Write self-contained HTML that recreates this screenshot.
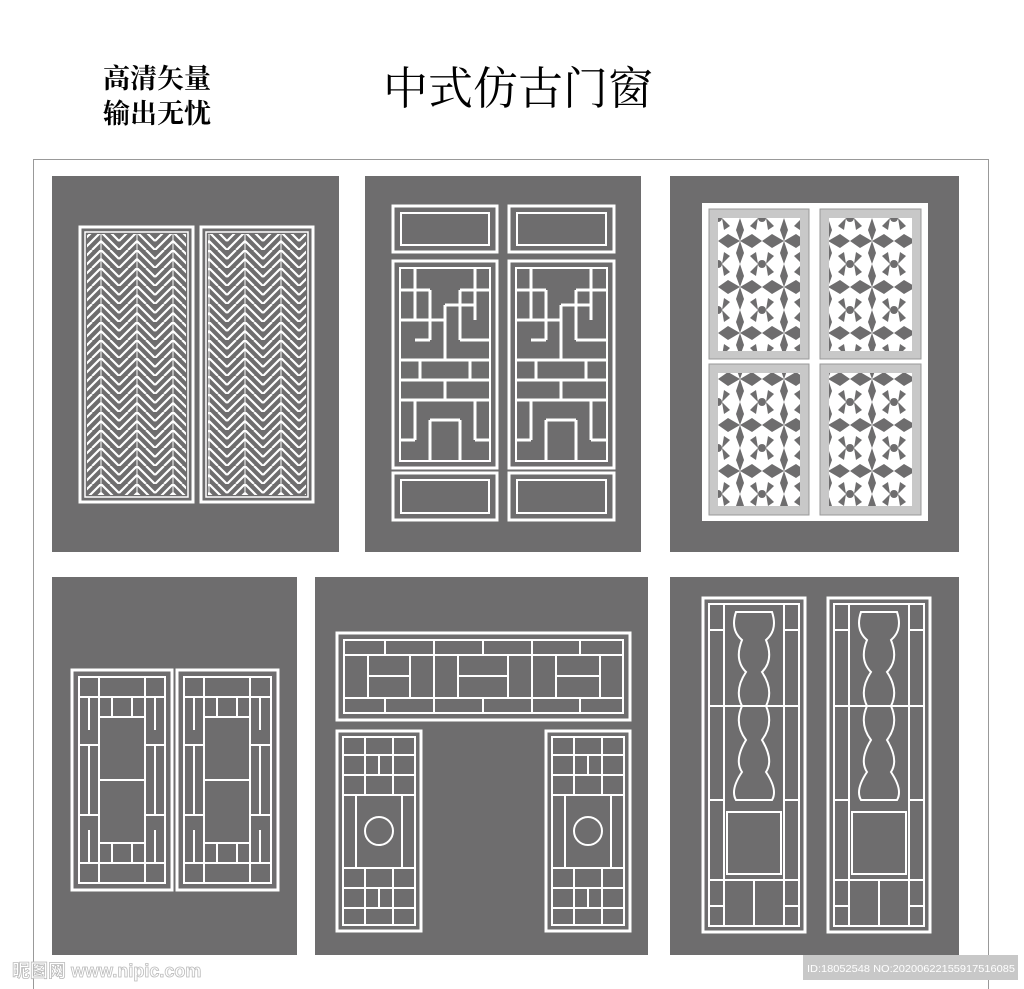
<!DOCTYPE html>
<html><head><meta charset="utf-8"><style>
html,body{margin:0;padding:0;background:#fff;width:1024px;height:989px;overflow:hidden}
</style></head><body>
<svg width="1024" height="989" xmlns="http://www.w3.org/2000/svg" style="position:absolute;left:0;top:0">
<defs>
<pattern id="hb" x="83" y="232" width="36" height="18" patternUnits="userSpaceOnUse">
<path d="M0,18 L18,0 M0,9 L9,0 M9,18 L18,9 M18,0 L36,18 M27,0 L36,9 M18,9 L27,18" stroke="#fff" stroke-width="2.2" fill="none"/>
<path d="M18,0 V18" stroke="#fff" stroke-width="1"/>
</pattern>
<pattern id="fl" x="718" y="218" width="44" height="46" patternUnits="userSpaceOnUse">
<rect width="44" height="46" fill="#fff"/>
<path d="M22,0 L26,12 L22,23 L18,12Z M22,23 L26,35 L22,46 L18,35Z M0,23 L10,16 L22,23 L10,30Z M22,23 L34,16 L44,23 L34,30Z M4,0 L12,8 L6,12Z M40,0 L32,8 L38,12Z M4,46 L12,38 L6,34Z M40,46 L32,38 L38,34Z" fill="#6e6d6e"/>
<circle cx="0" cy="0" r="4" fill="#6e6d6e"/><circle cx="44" cy="0" r="4" fill="#6e6d6e"/><circle cx="0" cy="46" r="4" fill="#6e6d6e"/><circle cx="44" cy="46" r="4" fill="#6e6d6e"/>
</pattern>
</defs>
<rect x="33.5" y="159.5" width="955" height="840" fill="none" stroke="#999" stroke-width="1"/>
<text x="103" y="88" font-family="Liberation Serif,'Noto Serif CJK SC',serif" font-weight="bold" font-size="27">高清矢量</text>
<text x="103" y="123" font-family="Liberation Serif,'Noto Serif CJK SC',serif" font-weight="bold" font-size="27">输出无忧</text>
<text x="383" y="104" font-family="Liberation Serif,'Noto Serif CJK SC',serif" font-size="45">中式仿古门窗</text>

<g fill="#6e6d6e">
<rect x="52" y="176" width="287" height="376"/>
<rect x="365" y="176" width="276" height="376"/>
<rect x="670" y="176" width="289" height="376"/>
<rect x="52" y="577" width="245" height="378"/>
<rect x="315" y="577" width="333" height="378"/>
<rect x="670" y="577" width="289" height="378"/>
</g>

<!-- P1 -->
<g fill="none" stroke="#fff">
<rect x="80" y="227" width="113" height="275" stroke-width="3"/>
<rect x="85" y="232" width="103" height="265" stroke-width="1.5"/>
<rect x="201" y="227" width="112" height="275" stroke-width="3"/>
<rect x="206" y="232" width="102" height="265" stroke-width="1.5"/>
</g>
<rect x="87" y="234" width="99" height="261" fill="url(#hb)"/>
<rect x="208" y="234" width="98" height="261" fill="url(#hb)"/>

<!-- P2 -->
<g fill="none" stroke="#fff" stroke-width="3">
<rect x="393" y="206" width="104" height="46"/><rect x="401" y="213" width="88" height="32" stroke-width="2"/>
<rect x="509" y="206" width="105" height="46"/><rect x="517" y="213" width="89" height="32" stroke-width="2"/>
<rect x="393" y="473" width="104" height="47"/><rect x="401" y="480" width="88" height="33" stroke-width="2"/>
<rect x="509" y="473" width="105" height="47"/><rect x="517" y="480" width="89" height="33" stroke-width="2"/>
<rect x="393" y="261" width="104" height="207"/><rect x="400" y="268" width="90" height="193" stroke-width="2"/>
<rect x="509" y="261" width="105" height="207"/><rect x="516" y="268" width="91" height="193" stroke-width="2"/>
</g>
<g stroke="#fff" stroke-width="3" fill="none">
<path id="lat" d="M400,290 H430 M460,290 H490 M415,268 V320 M475,268 V320 M430,290 V340 M460,290 V340 M400,320 H445 M445,305 H475 M445,305 V360 M400,360 H490 M415,340 H430 M460,340 H490 M420,360 V380 M470,360 V380 M400,380 H490 M445,380 V400 M400,400 H490 M415,400 V440 M475,400 V440 M430,420 H460 M430,420 V461 M460,420 V461 M400,440 H415 M475,440 H490"/>
<use href="#lat" x="116"/>
</g>

<!-- P3 -->
<rect x="702" y="203" width="226" height="318" fill="#fff"/>
<g fill="#c8c8c8" stroke="#999">
<rect x="709" y="209" width="100" height="150"/><rect x="820" y="209" width="101" height="150"/>
<rect x="709" y="364" width="100" height="151"/><rect x="820" y="364" width="101" height="151"/>
</g>
<g fill="url(#fl)">
<rect x="718" y="218" width="82" height="133"/><rect x="829" y="218" width="83" height="133"/>
<rect x="718" y="373" width="82" height="133"/><rect x="829" y="373" width="83" height="133"/>
</g>

<!-- P4 -->
<g fill="none" stroke="#fff" stroke-width="3">
<rect x="72" y="670" width="100" height="220"/><rect x="79" y="677" width="86" height="206" stroke-width="2"/>
<rect x="177" y="670" width="101" height="220"/><rect x="184" y="677" width="87" height="206" stroke-width="2"/>
<path id="p4" d="M79,697 H165 M79,863 H165 M99,677 V883 M145,677 V883 M99,717 H145 M99,843 H145 M79,745 H99 M145,745 H165 M79,815 H99 M145,815 H165 M89,745 V815 M155,745 V815 M99,780 H145 M112,697 V717 M132,697 V717 M112,843 V863 M132,843 V863 M89,697 V730 M155,697 V730 M89,830 V863 M155,830 V863" stroke-width="2"/>
<use href="#p4" x="105"/>
</g>

<!-- P5 -->
<g fill="none" stroke="#fff" stroke-width="3">
<rect x="337" y="633" width="293" height="87"/><rect x="344" y="640" width="279" height="73" stroke-width="2"/>
<path d="M434,640 V713 M532,640 V713 M344,655 H623 M344,698 H623 M368,655 V698 M410,655 V698 M458,655 V698 M508,655 V698 M556,655 V698 M600,655 V698 M368,676 H410 M458,676 H508 M556,676 H600 M385,640 V655 M580,640 V655 M385,698 V713 M580,698 V713 M483,640 V655 M483,698 V713" stroke-width="2"/>
<rect x="337" y="731" width="84" height="200"/><rect x="343" y="737" width="72" height="188" stroke-width="2"/>
<rect x="546" y="731" width="84" height="200"/><rect x="552" y="737" width="72" height="188" stroke-width="2"/>
<path id="p5" d="M343,755 H415 M343,775 H415 M343,795 H415 M343,868 H415 M343,888 H415 M343,908 H415 M365,737 V795 M393,737 V795 M365,868 V925 M393,868 V925 M379,755 V775 M379,888 V908 M356,795 V868 M402,795 V868" stroke-width="2"/>
<use href="#p5" x="209"/>
<circle cx="379" cy="831" r="14" stroke-width="2"/><circle cx="588" cy="831" r="14" stroke-width="2"/>
</g>

<!-- P6 -->
<g fill="none" stroke="#fff" stroke-width="3">
<rect x="703" y="598" width="102" height="334"/><rect x="709" y="604" width="90" height="322" stroke-width="2"/>
<rect x="828" y="598" width="102" height="334"/><rect x="834" y="604" width="90" height="322" stroke-width="2"/>
<g id="p6" stroke-width="2">
<path d="M724,604 V926 M784,604 V926 M709,630 H724 M784,630 H799 M709,706 H799 M709,800 H724 M784,800 H799 M709,880 H799 M709,906 H724 M784,906 H799 M754,880 V926"/>
<path d="M736,612 H772 Q778,630 766,640 Q774,660 762,672 Q774,690 766,706 Q774,724 762,740 Q774,760 766,772 Q778,790 772,800 H736 Q730,790 742,772 Q734,760 746,740 Q734,724 742,706 Q734,690 746,672 Q734,660 742,640 Q730,630 736,612Z"/>
<rect x="727" y="812" width="54" height="62"/>
</g>
<use href="#p6" x="125"/>
</g>

<!-- watermark -->
<text x="12" y="977" font-family="Liberation Sans,'Noto Sans CJK SC',sans-serif" font-size="18" font-weight="bold" fill="#fff" stroke="#bbb" stroke-width="0.8">昵图网 www.nipic.com</text>
<rect x="803" y="955" width="215" height="25" fill="#c8c8c8"/>
<text x="807" y="972" font-family="Liberation Sans,sans-serif" font-size="10.5" fill="#fff" textLength="208" lengthAdjust="spacingAndGlyphs">ID:18052548 NO:20200622155917516085</text>
</svg>
</body></html>
